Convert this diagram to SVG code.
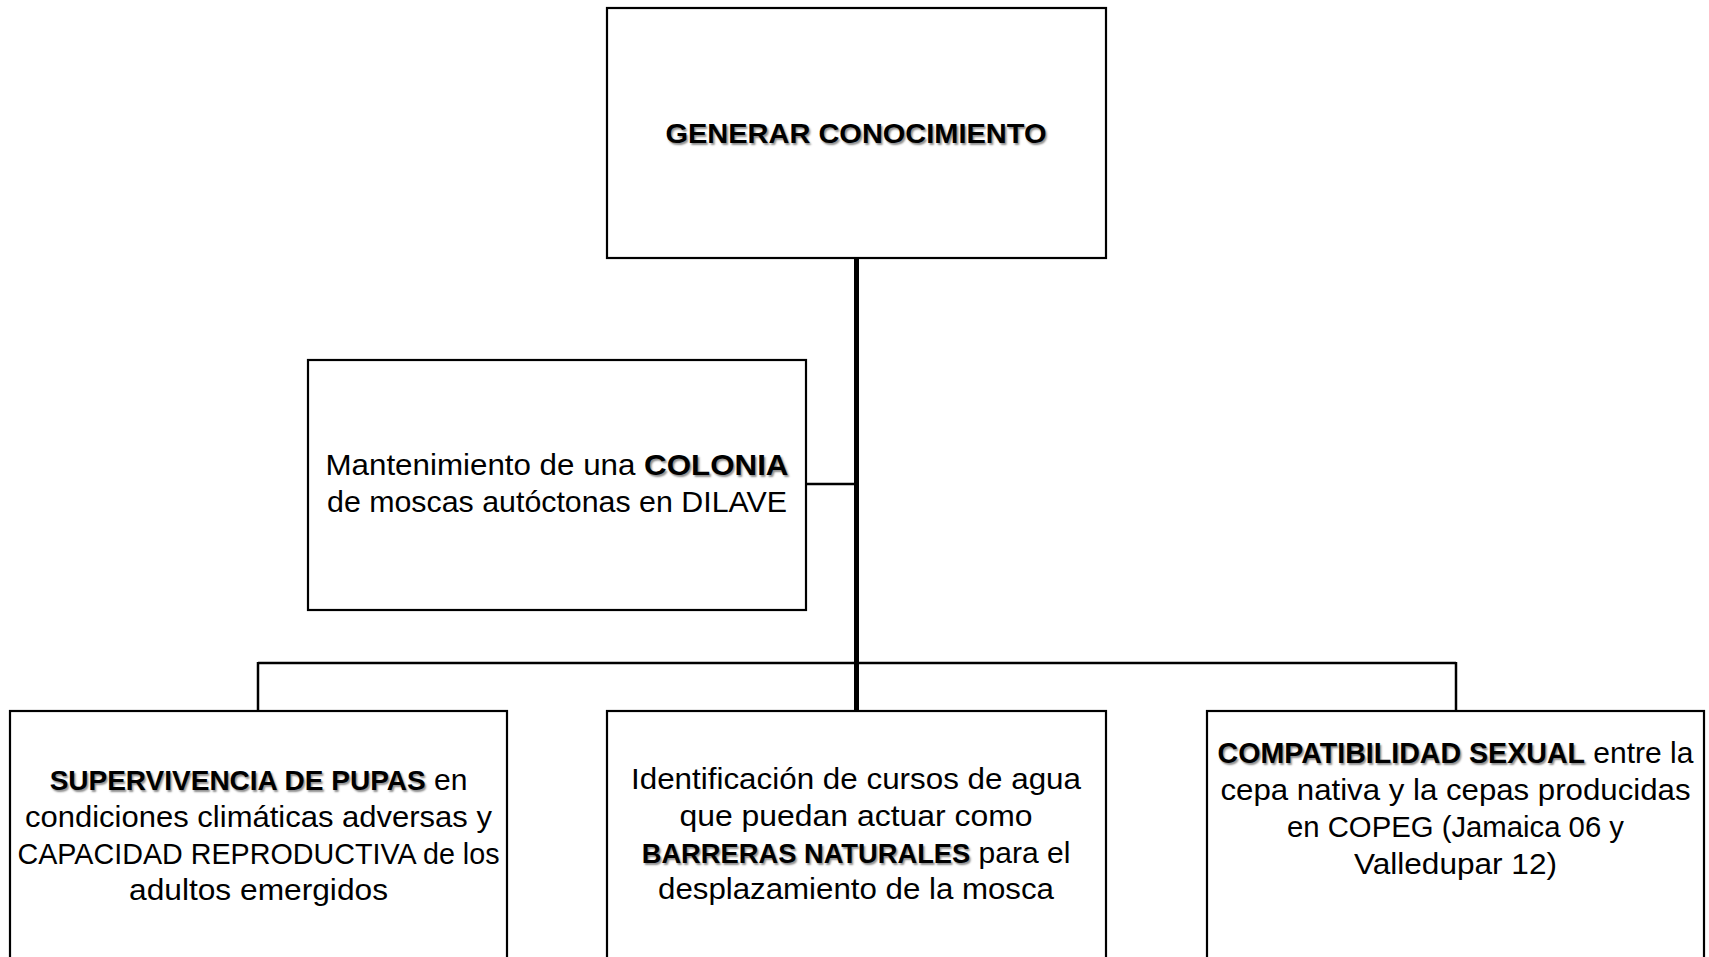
<svg xmlns="http://www.w3.org/2000/svg" width="1709" height="957" viewBox="0 0 1709 957">
<style>
.box{fill:#fff;stroke:#000;stroke-width:2.2}
.t{font-family:"Liberation Sans",Arial,sans-serif;font-size:30px;fill:#000;text-anchor:middle}
.title{font-family:"Liberation Sans",Arial,sans-serif;font-size:28px;font-weight:bold;fill:#000;text-anchor:middle;text-shadow:1.5px 1.5px 2px rgba(0,0,0,0.45)}
.b{font-weight:bold;text-shadow:1.5px 1.5px 2px rgba(0,0,0,0.45)}
.c{stroke:#000;fill:none}
</style>
<rect width="1709" height="957" fill="#fff"/>
<g id="connectors">
<line class="c" x1="856.5" y1="258" x2="856.5" y2="711" stroke-width="5"/>
<line class="c" x1="806" y1="484" x2="856" y2="484" stroke-width="2.5"/>
<line class="c" x1="258" y1="663" x2="1456" y2="663" stroke-width="2.5"/>
<line class="c" x1="258" y1="662" x2="258" y2="711" stroke-width="2.5"/>
<line class="c" x1="1456" y1="662" x2="1456" y2="711" stroke-width="2.5"/>
</g>
<g id="node-generar">
<rect class="box" x="607" y="8" width="499" height="250"/>
<text class="title" x="856" y="143" textLength="381" lengthAdjust="spacingAndGlyphs">GENERAR CONOCIMIENTO</text>
</g>
<g id="node-colonia">
<rect class="box" x="308" y="360" width="498" height="250"/>
<text class="t" x="557" y="475" textLength="463" lengthAdjust="spacingAndGlyphs">Mantenimiento de una <tspan class="b">COLONIA</tspan></text>
<text class="t" x="557" y="512" textLength="460" lengthAdjust="spacingAndGlyphs">de moscas autóctonas en DILAVE</text>
</g>
<g id="node-pupas">
<rect class="box" x="10" y="711" width="497" height="270"/>
<text class="t" x="258.5" y="790"><tspan class="b" font-size="28">SUPERVIVENCIA DE PUPAS</tspan> en</text>
<text class="t" x="258.5" y="827" textLength="467" lengthAdjust="spacingAndGlyphs">condiciones climáticas adversas y</text>
<text class="t" x="258.5" y="864" textLength="482" lengthAdjust="spacingAndGlyphs">CAPACIDAD REPRODUCTIVA de los</text>
<text class="t" x="258.5" y="900" textLength="259" lengthAdjust="spacingAndGlyphs">adultos emergidos</text>
</g>
<g id="node-barreras">
<rect class="box" x="607" y="711" width="499" height="270"/>
<text class="t" x="856" y="789" textLength="450" lengthAdjust="spacingAndGlyphs">Identificación de cursos de agua</text>
<text class="t" x="856" y="826" textLength="353" lengthAdjust="spacingAndGlyphs">que puedan actuar como</text>
<text class="t" x="856" y="863"><tspan class="b" font-size="27.3">BARRERAS NATURALES</tspan> para el</text>
<text class="t" x="856" y="899" textLength="396" lengthAdjust="spacingAndGlyphs">desplazamiento de la mosca</text>
</g>
<g id="node-compatibilidad">
<rect class="box" x="1207" y="711" width="497" height="270"/>
<text class="t" x="1455.5" y="763"><tspan class="b" font-size="28.6">COMPATIBILIDAD SEXUAL</tspan> entre la</text>
<text class="t" x="1455.5" y="800" textLength="470" lengthAdjust="spacingAndGlyphs">cepa nativa y la cepas producidas</text>
<text class="t" x="1455.5" y="837" textLength="337" lengthAdjust="spacingAndGlyphs">en COPEG (Jamaica 06 y</text>
<text class="t" x="1455.5" y="874" textLength="203" lengthAdjust="spacingAndGlyphs">Valledupar 12)</text>
</g>
</svg>
